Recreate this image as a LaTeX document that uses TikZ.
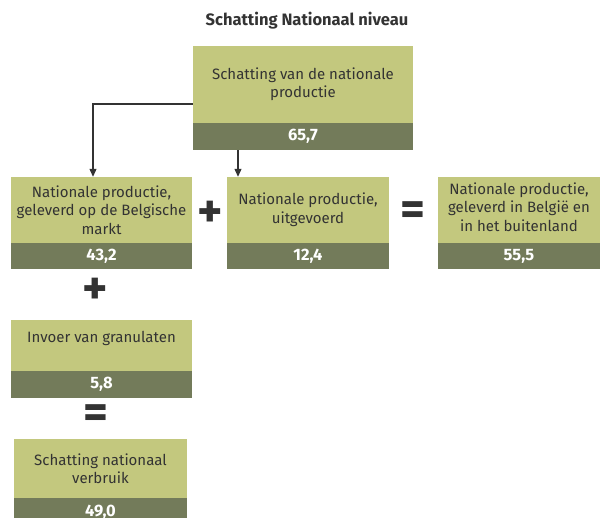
\documentclass[tikz,border=0pt]{standalone}
\usepackage{fontspec}
\setmainfont{Fira Sans}
\usetikzlibrary{arrows.meta}
\definecolor{lightg}{HTML}{C3C87E}
\definecolor{darkg}{HTML}{737B5A}
\definecolor{txt}{HTML}{333333}
\tikzset{
  lightbox/.style={fill=lightg, draw=none, inner sep=0pt, align=center, text=txt,
    font=\fontsize{15}{18.5}\selectfont},
  darkbox/.style={fill=darkg, draw=none, inner sep=0pt, text=white,
    font=\fontsize{16.5}{18}\selectfont\bfseries},
  op/.style={text=txt, inner sep=0pt, font=\fontsize{48}{48}\selectfont\bfseries},
  arr/.style={draw=txt, line width=1.1pt, -{Triangle[width=7pt,length=8pt]}},
  plain/.style={text=txt, inner sep=0pt, align=center, font=\fontsize{15}{18.5}\selectfont}
}
\begin{document}
\begin{tikzpicture}[x=1pt,y=-1pt]
\useasboundingbox (0,0) rectangle (600,518);
\clip (0,0) rectangle (600,518);
\node[text=txt, font=\fontsize{16.5}{18}\selectfont\bfseries] (title) at (307,21) {Schatting Nationaal niveau};

% top box
\node[lightbox, minimum width=220pt, minimum height=77pt] (top) at (303,84.5) {Schatting van de nationale\\productie};
\node[darkbox, minimum width=220pt, minimum height=27pt] (topd) at (303,136.5) {65,7};

% row boxes
\node[lightbox, minimum width=181pt, minimum height=66pt] (b2) at (101.5,210) {Nationale productie,\\geleverd op de Belgische\\markt};
\node[darkbox, minimum width=181pt, minimum height=26pt] (b2d) at (101.5,256) {43,2};

\node[lightbox, minimum width=162pt, minimum height=66pt] (b3) at (308,210) {Nationale productie,\\uitgevoerd};
\node[darkbox, minimum width=162pt, minimum height=26pt] (b3d) at (308,256) {12,4};

\node[lightbox, minimum width=162pt, minimum height=66pt] (b4) at (519,210) {};
\node[plain] (b4t) at (519,207) {Nationale productie,\\geleverd in België en\\in het buitenland};
\node[darkbox, minimum width=162pt, minimum height=26pt] (b4d) at (519,256) {55,5};

\node[lightbox, minimum width=181pt, minimum height=51pt] (b5) at (101.5,345.5) {};
\node[plain] (b5t) at (101.5,338) {Invoer van granulaten};
\node[darkbox, minimum width=181pt, minimum height=27pt] (b5d) at (101.5,384.5) {5,8};

\node[lightbox, minimum width=173pt, minimum height=59pt] (b6) at (100.5,468.5) {Schatting nationaal\\verbruik};
\node[darkbox, minimum width=173pt, minimum height=28pt] (b6d) at (100.5,512) {49,0};

% operators
\node[op] (p1) at (210,214) {+};
\node[op] (p2) at (95,291) {+};
\node[op] (e1) at (413,214) {=};
\node[op] (e2) at (96,417) {=};

% arrows
\draw[arr] ([yshift=-19.5pt]top.west) -| ([xshift=-8.5pt]b2.north);
\draw[arr] ([xshift=-65pt]topd.south) -- ([xshift=-65pt]topd.south |- b3.north);
\end{tikzpicture}
\end{document}
